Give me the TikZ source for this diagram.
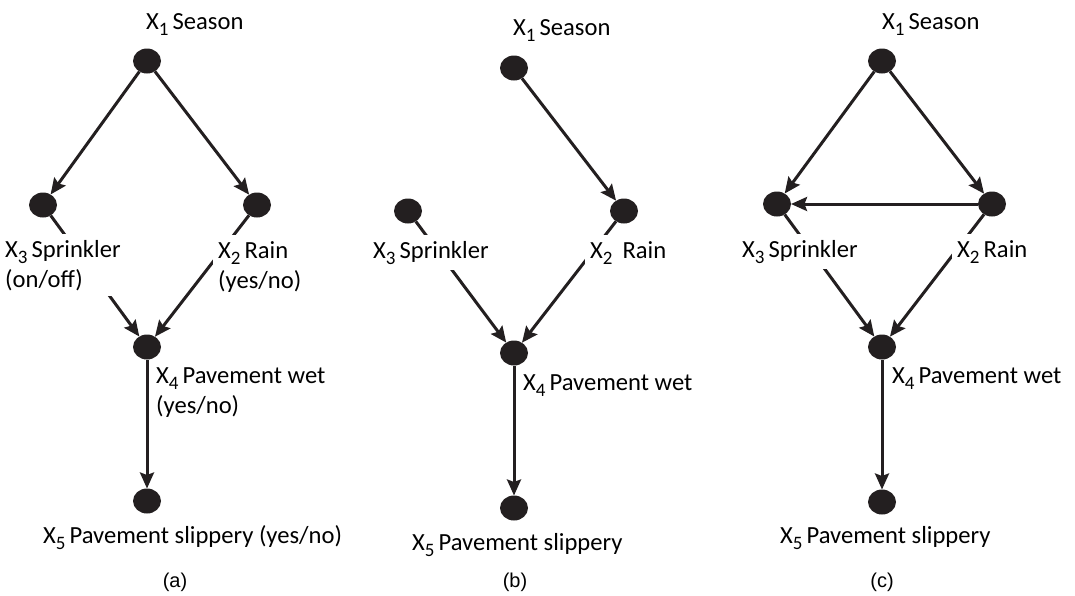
\documentclass[tikz,border=0pt]{standalone}
\usepackage{fontspec}
\setmainfont{Carlito}
\newfontfamily\capfont{Liberation Sans}
\usetikzlibrary{arrows.meta,shapes.geometric}
\definecolor{ink}{HTML}{231F20}
% variable index, set low and fairly large
\newcommand\vx[1]{X\raisebox{-6pt}{\fontsize{19}{19}\selectfont #1}\hspace{4pt}}

\begin{document}
\begin{tikzpicture}[x=1pt,y=-1pt,
  dot/.style={ellipse, fill=ink, minimum width=28pt, minimum height=25pt, inner sep=0pt, outer sep=0pt},
  arc/.style={draw=ink, line width=3pt, -{Stealth[length=16pt,width=14pt,inset=2.5pt]}},
  % multi-line labels sit on the baseline of their last line
  lbl/.style={fill=white, inner xsep=5pt, inner ysep=6pt, align=left, anchor=base west,
              font=\fontsize{24.6}{30}\selectfont},
  panelcap/.style={anchor=base, font=\capfont\fontsize{20}{24}\selectfont}]
\useasboundingbox (0,0) rectangle (1075,595);

% ---------- (a) ----------
\node[dot] (a1) at (147,61) {};
\node[dot] (a3) at (43,205) {};
\node[dot] (a2) at (257,205) {};
\node[dot] (a4) at (147,347) {};
\node[dot] (a5) at (147,501) {};
\draw[arc] (a1) -- (a3);
\draw[arc] (a1) -- (a2);
\draw[arc] (a3) -- (a4);
\draw[arc] (a2) -- (a4);
\draw[arc] (a4) -- (a5);
\node[lbl] (la1) at (141,29) {\vx{1}Season};
\node[lbl] (la3) at (0,287) {\vx{3}Sprinkler\\(on/off)};
\node[lbl] (la2) at (213,288) {\vx{2}Rain\\(yes/no)};
\node[lbl] (la4) at (151,413) {\vx{4}Pavement wet\\(yes/no)};
\node[lbl] (la5) at (38,543) {\vx{5}Pavement slippery (yes/no)};
\node[panelcap] (capa) at (175,587) {(a)};

% ---------- (b) ----------
\node[dot] (b1) at (514,68) {};
\node[dot] (b3) at (408,211) {};
\node[dot] (b2) at (624,211) {};
\node[dot] (b4) at (514,353) {};
\node[dot] (b5) at (514,508) {};
\draw[arc] (b1) -- (b2);
\draw[arc] (b3) -- (b4);
\draw[arc] (b2) -- (b4);
\draw[arc] (b4) -- (b5);
\node[lbl] (lb1) at (508,35) {\vx{1}Season};
\node[lbl] (lb3) at (368,258) {\vx{3}Sprinkler};
\node[lbl] (lb2) at (585,258) {\vx{2}\hspace{6pt}Rain};
\node[lbl] (lb4) at (518,390) {\vx{4}Pavement wet};
\node[lbl] (lb5) at (407,550) {\vx{5}Pavement slippery};
\node[panelcap] (capb) at (515,587) {(b)};

% ---------- (c) ----------
\node[dot] (c1) at (882,61) {};
\node[dot] (c3) at (777,204) {};
\node[dot] (c2) at (992,204) {};
\node[dot] (c4) at (882,347) {};
\node[dot] (c5) at (882,502) {};
\draw[arc] (c1) -- (c3);
\draw[arc] (c1) -- (c2);
\draw[arc] (c2) -- (c3);
\draw[arc] (c3) -- (c4);
\draw[arc] (c2) -- (c4);
\draw[arc] (c4) -- (c5);
\node[lbl] (lc1) at (877,29) {\vx{1}Season};
\node[lbl] (lc3) at (737,257) {\vx{3}Sprinkler};
\node[lbl] (lc2) at (952,257) {\vx{2}Rain};
\node[lbl] (lc4) at (887,383) {\vx{4}Pavement wet};
\node[lbl] (lc5) at (775,543) {\vx{5}Pavement slippery};
\node[panelcap] (capc) at (882,587) {(c)};
\end{tikzpicture}
\end{document}
